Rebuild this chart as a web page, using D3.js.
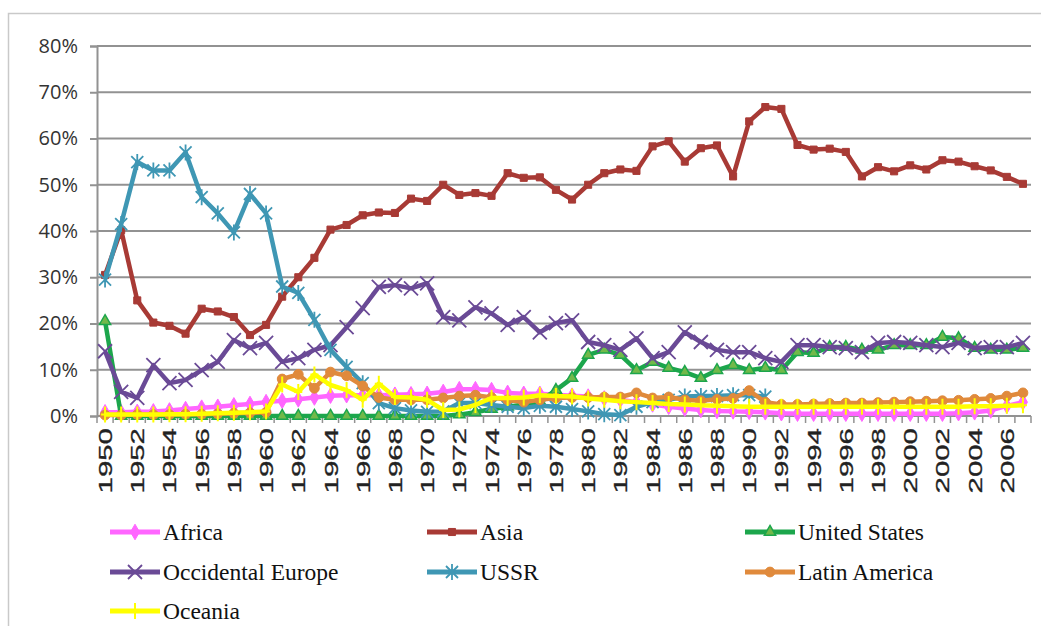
<!DOCTYPE html>
<html>
<head>
<meta charset="utf-8">
<script src="https://cdn.jsdelivr.net/npm/d3@7"></script>
<style>
body{margin:0;background:#fff;}
</style>
</head>
<body>
<script>
// categories
var years = d3.range(1950, 2008);
var tickYears = years.filter(function(d){ return d % 2 == 0; });
var yTicks = [0, 10, 20, 30, 40, 50, 60, 70, 80];

// shares in %, 1950 -> 2007
var africa = [0.8,0.8,0.9,1,1.2,1.5,1.8,2,2.3,2.6,
  3,3.3,3.6,4,4.4,4.5,4.5,4.5,4.6,4.7,
  4.8,5.2,5.8,5.8,5.6,5,4.8,4.8,4.6,4.4,
  4.2,3.8,3.5,3,2.5,2,1.6,1.3,1.1,1,
  0.9,0.8,0.6,0.5,0.5,0.5,0.5,0.5,0.5,0.5,
  0.5,0.5,0.5,0.6,0.8,1.2,2.2,3];
var asia = [30.5,40.2,25,20.2,19.5,17.8,23.2,22.6,21.4,17.5,
  19.7,25.8,30,34.2,40.3,41.3,43.4,44,43.9,47,
  46.5,50,47.8,48.2,47.6,52.5,51.5,51.6,48.9,46.8,
  50,52.5,53.3,53,58.3,59.4,55,57.9,58.5,51.8,
  63.7,66.8,66.4,58.6,57.6,57.8,57.1,51.8,53.8,52.9,
  54.2,53.3,55.3,55,54,53.1,51.7,50.2];
var unitedStates = [20.5,0,0,0,0,0,0,0,0,0,
  0,0,0,0,0,0,0,0,0,0,
  0,0,0.3,0.8,1.5,2,2.5,3.2,5.6,8.2,
  13.2,14.3,13.2,9.9,11.7,10.4,9.5,8.2,9.9,11,
  9.9,10.4,9.9,13.8,13.6,14.9,14.9,14.3,14.3,15.3,
  15.3,15.3,17.1,16.8,14.7,14.3,14.3,14.7];
var occEurope = [14,5.2,3.9,11,7.1,7.8,9.9,11.7,16.4,14.7,
  15.8,11.7,12.5,14.3,15.3,19.2,23.3,27.9,28.3,27.6,
  28.7,21.4,20.7,23.5,22.2,19.7,21.4,18.1,20.1,20.7,
  16,15.3,14.3,16.8,12.5,13.8,18.1,16,14.3,13.8,
  13.8,12.5,11.7,15.3,15.3,14.9,14.7,13.8,15.8,16,
  15.8,15.3,14.9,15.8,14.7,14.9,14.9,15.8];
var ussr = [29.5,41.5,54.9,53.1,53.1,57,47.3,43.8,39.7,48,
  43.8,28,26.6,20.8,14.3,10.6,7.1,2.8,1.7,1.2,
  0.9,1,2.8,2.8,2.4,2,1.7,2.2,2,1.5,
  1,0.4,0.2,2,3,3.5,4.2,4.3,4.3,4.5,
  4.5,4.2,null,null,null,null,null,null,null,null,
  null,null,null,null,null,null,null,null];
var latinAmerica = [0.2,0.2,0.3,0.3,0.3,0.4,0.4,0.5,0.6,0.7,
  0.8,8,9,6,9.5,8.7,6.5,4,3.5,3.5,
  3.5,3.9,4.3,4.5,4,3.5,3,3.5,3.9,4,
  4,4.1,4.1,5,3.9,4.1,3.5,3.3,3.6,3.8,
  5.5,3,2.5,2.5,2.6,2.7,2.8,2.8,2.9,3,
  3.1,3.2,3.3,3.4,3.6,3.8,4.3,5];
var oceania = [0.3,0.3,0.3,0.3,0.4,0.4,0.5,0.6,0.7,0.8,
  1,6.8,5.2,9,6.7,5.6,3.5,7,4.1,4,
  3.5,1.3,1.4,2.4,3.9,3.9,4,4.5,4.3,4.2,
  3.8,3.5,3.2,3,2.8,2.6,2.5,2.3,2.2,2.1,
  2,2,2,2,2,2,2,2,2,2,
  2,2,2,2,2.1,2.1,2.2,2.3];

var seriesNames = ["Africa","Asia","United States","Occidental Europe","USSR","Latin America","Oceania"];
var seriesData = [africa, asia, unitedStates, occEurope, ussr, latinAmerica, oceania];
var seriesColors = ["#ff66ff","#a83a35","#1ca64c","#6a4a96","#3f97b4","#e08a3c","#ffff00"];
var seriesMarkers = ["diamond","square","triangle","x","star","circle","plus"];

var W = 1041, H = 626;
var plotLeft = 97, plotRight = 1031, plotTop = 46, plotBottom = 416;

var svg = d3.select("body").append("svg").attr("width", W).attr("height", H);
svg.append("rect").attr("width", W).attr("height", H).attr("fill", "#fff");
// outer frame
svg.append("rect").attr("x", 8.5).attr("y", 13.5).attr("width", 1100).attr("height", 700)
   .attr("fill", "none").attr("stroke", "#c9c9c9").attr("stroke-width", 1.5);

var x = d3.scaleBand().domain(years).range([plotLeft, plotRight]).padding(0);
var y = d3.scaleLinear().domain([0, 80]).range([plotBottom, plotTop]);
var cx = function(yr){ return x(yr) + x.bandwidth() / 2; };

// gridlines
svg.append("g").selectAll("line").data(yTicks.filter(function(d){ return d > 0; })).enter()
   .append("line")
   .attr("x1", plotLeft).attr("x2", plotRight)
   .attr("y1", function(d){ return y(d); }).attr("y2", function(d){ return y(d); })
   .attr("stroke", "#929292").attr("stroke-width", 2);

// y axis
var yAxis = d3.axisLeft(y).tickValues(yTicks).tickSize(7).tickPadding(12)
   .tickFormat(function(d){ return d + "%"; });
var yg = svg.append("g").attr("transform", "translate(" + plotLeft + ",0)").call(yAxis);
yg.select(".domain").attr("stroke", "#929292").attr("stroke-width", 2);
yg.selectAll(".tick line").attr("stroke", "#929292").attr("stroke-width", 2);
yg.selectAll(".tick text").attr("font-family", "'Open Sans', sans-serif")
  .attr("font-size", "20px").attr("fill", "#333");

// x axis line + ticks at category boundaries
svg.append("line").attr("x1", plotLeft).attr("x2", plotRight).attr("y1", plotBottom).attr("y2", plotBottom)
   .attr("stroke", "#929292").attr("stroke-width", 2);
var bounds = years.map(function(d){ return x(d); }).concat([plotRight]);
svg.append("g").selectAll("line").data(bounds).enter().append("line")
   .attr("x1", function(d){ return d; }).attr("x2", function(d){ return d; })
   .attr("y1", plotBottom).attr("y2", plotBottom + 7)
   .attr("stroke", "#929292").attr("stroke-width", 1.5);

// x labels, rotated and stretched
svg.append("g").selectAll("text").data(tickYears).enter().append("text")
   .attr("transform", function(d){ return "translate(" + (cx(d) + 7) + "," + (plotBottom + 12) + ") scale(1,1.55) rotate(-90)"; })
   .attr("text-anchor", "end")
   .attr("font-family", "'Liberation Sans', Arial, sans-serif")
   .attr("font-size", "19px").attr("fill", "#222")
   .attr("stroke", "#222").attr("stroke-width", 0.3)
   .text(function(d){ return d; });

function markerPath(type){
  if (type == "diamond") return d3.symbol(d3.symbolDiamond, 70)();
  if (type == "square") return d3.symbol(d3.symbolSquare, 50)();
  if (type == "triangle") return d3.symbol(d3.symbolTriangle, 55)();
  if (type == "circle") return d3.symbol(d3.symbolCircle, 75)();
  if (type == "x") return "M-7,-7L7,7M-7,7L7,-7";
  if (type == "star") return "M-6,-6L6,6M-6,6L6,-6M0,-8L0,8";
  if (type == "plus") return "M0,-8L0,8M-4,0L4,0";
}
function styleMarker(sel, i){
  var t = seriesMarkers[i], c = seriesColors[i];
  if (t == "x" || t == "star" || t == "plus") {
    sel.attr("fill", "none").attr("stroke", c).attr("stroke-width", t == "plus" ? 2 : 1.8);
  } else if (t == "triangle") {
    sel.attr("fill", "#72b94a").attr("stroke", c).attr("stroke-width", 1.5);
  } else {
    sel.attr("fill", c).attr("stroke", c).attr("stroke-width", 1);
  }
}

var line = d3.line()
  .defined(function(d){ return d.v != null; })
  .x(function(d){ return cx(d.yr); })
  .y(function(d){ return y(d.v); });

seriesData.forEach(function(vals, i){
  var pts = years.map(function(yr, j){ return {yr: yr, v: vals[j]}; });
  var g = svg.append("g");
  g.append("path").datum(pts).attr("d", line)
   .attr("fill", "none").attr("stroke", seriesColors[i]).attr("stroke-width", 4.5)
   .attr("stroke-linejoin", "round");
  g.selectAll("path.m").data(pts.filter(function(d){ return d.v != null; })).enter()
   .append("path").attr("class", "m")
   .attr("transform", function(d){ return "translate(" + cx(d.yr) + "," + y(d.v) + ")"; })
   .attr("d", markerPath(seriesMarkers[i]))
   .call(styleMarker, i);
});

// legend
var legX = [110, 427, 745], legY = [532, 572, 611];
seriesNames.forEach(function(name, i){
  var lx = legX[i % 3], ly = legY[Math.floor(i / 3)];
  var g = svg.append("g").attr("transform", "translate(" + lx + "," + ly + ")");
  g.append("line").attr("x1", 0).attr("x2", 50).attr("y1", 0).attr("y2", 0)
   .attr("stroke", seriesColors[i]).attr("stroke-width", 5);
  g.append("path").attr("transform", "translate(25,0)").attr("d", markerPath(seriesMarkers[i]))
   .call(styleMarker, i);
  g.append("text").attr("x", 53).attr("y", 8)
   .attr("font-family", "'Liberation Serif', 'Times New Roman', serif")
   .attr("font-size", "23.5px").attr("fill", "#111")
   .text(name);
});
</script>
</body>
</html>
